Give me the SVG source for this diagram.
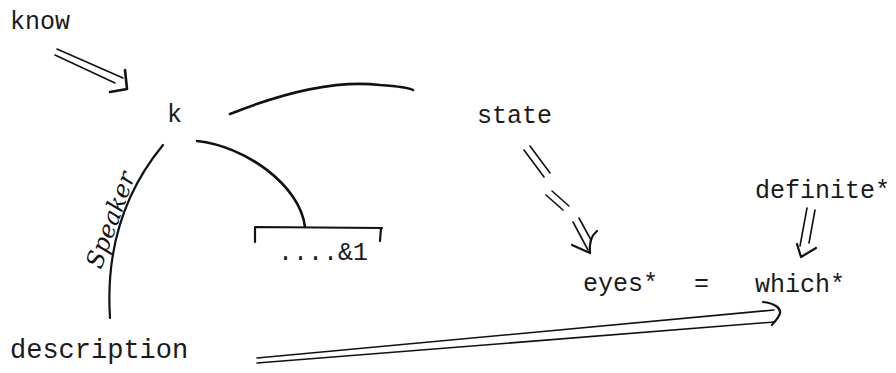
<svg xmlns="http://www.w3.org/2000/svg" width="896" height="373" viewBox="0 0 896 373">
<style>
.t{font-family:"Liberation Mono",monospace;font-size:25px;fill:#1a1a1a}
.l{fill:none;stroke:#111;stroke-width:2.6;stroke-linecap:round;stroke-linejoin:round}
.d{fill:none;stroke:#111;stroke-width:1.6;stroke-linecap:round;stroke-linejoin:round}
.h{font-family:"DejaVu Serif",serif;font-style:italic;font-size:24px;fill:#111}
</style>
<rect width="896" height="373" fill="#fff"/>
<g id="know"><text class="t" x="10" y="29">know</text></g>
<g id="k"><text class="t" x="167" y="122">k</text></g>
<g id="state"><text class="t" x="477" y="123">state</text></g>
<g id="and1"><text class="t" x="278" y="260">....&amp;1</text>
<path class="d" d="M255,227 L382,228 M255,228 L255,242 M381,228 L380,241" style="stroke-width:2.2"/></g>
<g id="eyes"><text class="t" x="583" y="291">eyes*</text></g>
<g id="eq"><text class="t" x="694" y="291">=</text></g>
<g id="which"><text class="t" x="755" y="292">which*</text></g>
<g id="definite"><text class="t" x="755" y="198">definite*</text></g>
<g id="description"><text class="t" x="10" y="358" style="font-size:27px">description</text></g>
<g id="connectors">
<path class="d" d="M57,49 L123,78 M55,55 L115,83"/>
<path class="l" d="M125,70 L127,89 L110,92"/>
<path class="l" d="M230,114 Q320,78 380,85 Q408,87 413,90"/>
<path class="l" d="M197,141 C245,146 300,185 305,227"/>
<path class="l" d="M163,145 C130,185 105,240 110,318" style="stroke-width:2.2"/>
<text class="h" transform="translate(101,270) rotate(-70)">Speaker</text>
<path class="d" d="M524,150 L544,177 M530,146 L550,173 M546,195 L563,210 M552,191 L569,206 M573,222 L588,250 M579,218 L591,240"/>
<path class="l" d="M572,245 L590,253 C589,244 591,236 597,231" style="stroke-width:2.2"/>
<path class="d" d="M807,208 L800,246 M815,210 L809,243"/>
<path class="l" d="M797,244 L801,257 L816,248" style="stroke-width:2.2"/>
<path class="d" d="M257,358 L774,310 M257,363 L774,322"/>
<path class="l" d="M763,302 C774,303 781,308 780,313 C779,318 774,322 772,325" style="stroke-width:2.2"/>
</g>
</svg>
